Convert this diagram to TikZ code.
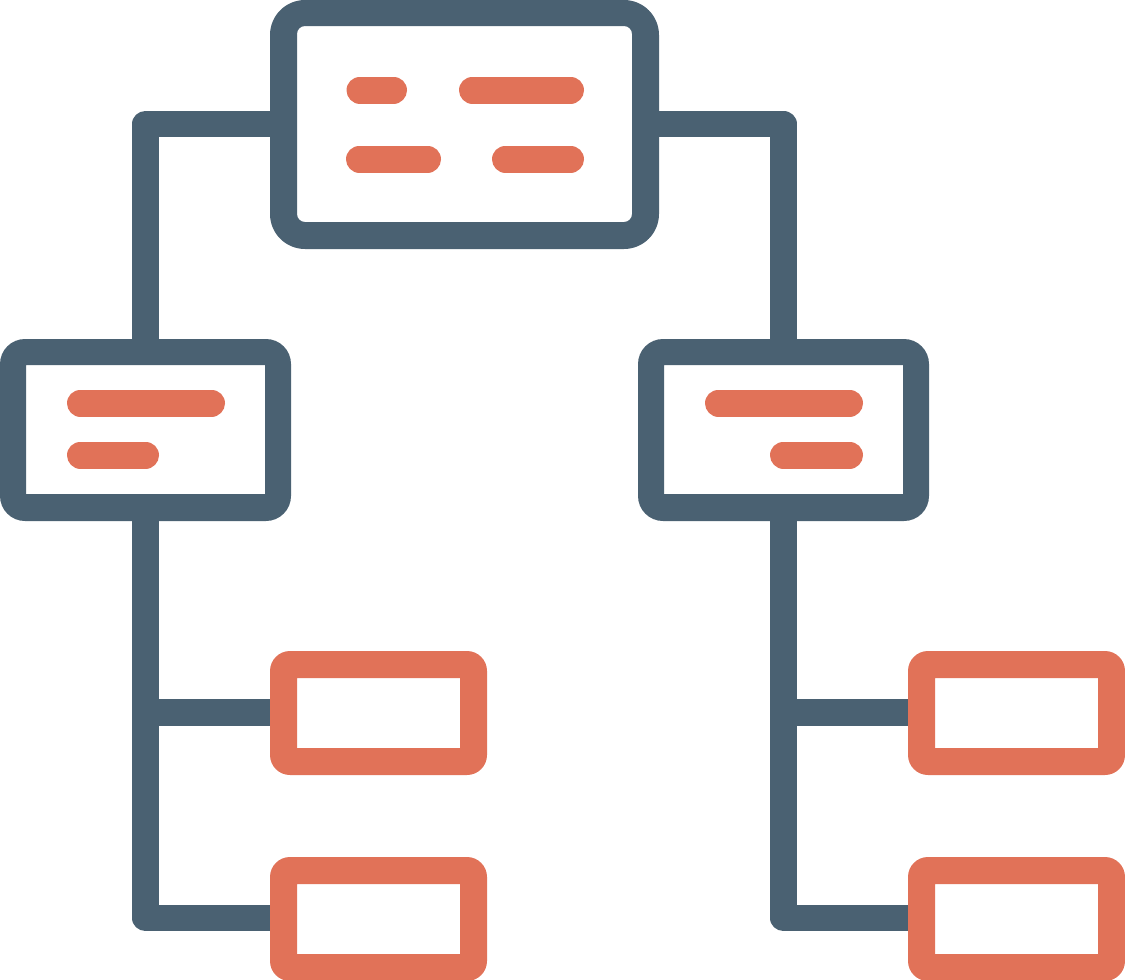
\documentclass[tikz,border=0pt]{standalone}
\definecolor{slate}{RGB}{74,97,114}
\definecolor{coral}{RGB}{225,114,88}
\tikzset{
  link/.style={draw=slate,line width=26.5pt,line join=round,line cap=butt},
  bar/.style={draw=coral,line width=27pt,line cap=round},
}
\begin{document}
\begin{tikzpicture}[x=1pt,y=-1pt]
\useasboundingbox (0,0) rectangle (1125,980);
% connectors
\coordinate (tl) at (283,124);
\coordinate (tlc) at (145.5,124);
\coordinate (ml) at (145.5,352);
\coordinate (tr) at (646,124);
\coordinate (trc) at (783.5,124);
\coordinate (mr) at (783.5,352);
\draw[link] (tl) -- (tlc) -- (ml);
\draw[link] (tr) -- (trc) -- (mr);
\draw[link] (145.5,507) -- (145.5,918) -- (284,918);
\draw[link] (145.5,712.5) -- (284,712.5);
\draw[link] (783.5,507) -- (783.5,918) -- (922,918);
\draw[link] (783.5,712.5) -- (922,712.5);
% top box
\fill[slate,even odd rule] [rounded corners=35pt] (270,0) rectangle (659,249)
  [rounded corners=8pt] (297,26) rectangle (632,222);
% middle boxes
\fill[slate,even odd rule] [rounded corners=25pt] (0,339) rectangle (291,521)
  [sharp corners] (26,365) rectangle (265,494);
\fill[slate,even odd rule] [rounded corners=25pt] (638,339) rectangle (929,521)
  [sharp corners] (664,365) rectangle (903,494);
% leaf boxes
\foreach \x in {270,908}{
  \foreach \y in {651,857}{
    \fill[coral,even odd rule] [rounded corners=20pt] (\x,\y) rectangle ++(217,124)
      [sharp corners] (\x+27,\y+27) rectangle ++(163,70);
  }
}
% text bars
\draw[bar] (360,90) -- (393.5,90);
\draw[bar] (472.5,90) -- (570.5,90);
\draw[bar] (359.5,159) -- (427.5,159);
\draw[bar] (505.5,159) -- (570.5,159);
\draw[bar] (80.5,403) -- (211.5,403);
\draw[bar] (80.5,455) -- (145.5,455);
\draw[bar] (718.5,403) -- (849.5,403);
\draw[bar] (783.5,455) -- (849.5,455);
\end{tikzpicture}
\end{document}
